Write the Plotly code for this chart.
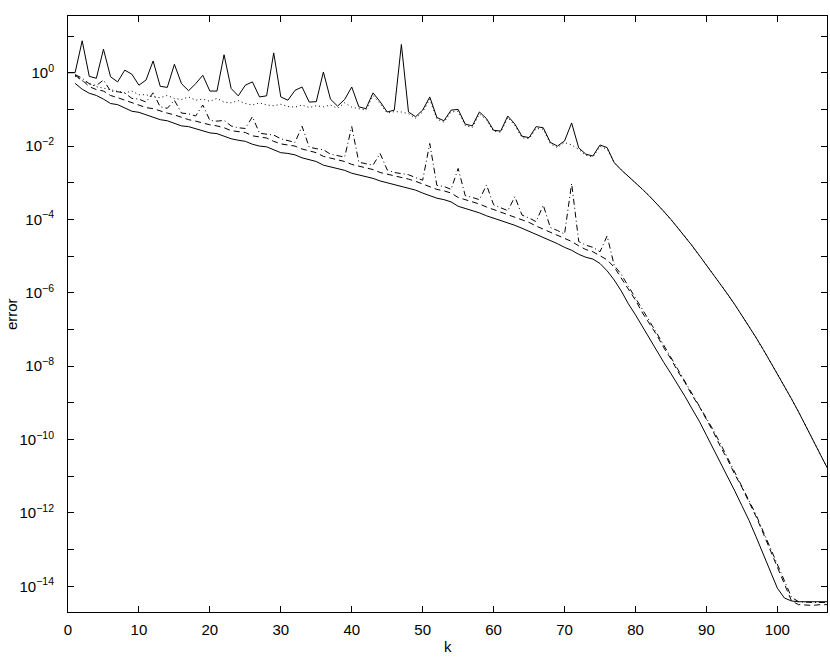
import plotly.graph_objects as go

# iteration index
k_top = list(range(0, 108))
k = list(range(1, 108))

# log10(error), one value per k
err_top_log10 = [
    0.0, 0.0, 0.87, -0.1, -0.15, 0.64, -0.11, -0.25, 0.07, -0.04,
    -0.34, -0.2, 0.32, -0.37, -0.4, 0.23, -0.3, -0.49, -0.3, -0.07,
    -0.5, -0.5, 0.49, -0.43, -0.63, -0.34, -0.25, -0.66, -0.63, 0.54,
    -0.66, -0.75, -0.48, -0.39, -0.8, -0.79, 0.02, -0.72, -0.91, -0.73,
    -0.39, -0.93, -0.98, -0.55, -0.79, -1.07, -1.02, 0.77, -1.07, -1.2,
    -1.02, -0.66, -1.22, -1.31, -1.02, -1.0, -1.4, -1.45, -1.07, -1.25,
    -1.57, -1.59, -1.18, -1.4, -1.73, -1.77, -1.47, -1.5, -1.9, -2.0,
    -1.86, -1.37, -2.05, -2.22, -2.27, -1.97, -2.04, -2.45, -2.65, -2.82,
    -3.0, -3.18, -3.37, -3.57, -3.78, -4.0, -4.23, -4.47, -4.72, -4.98,
    -5.24, -5.5, -5.77, -6.04, -6.32, -6.61, -6.91, -7.22, -7.54, -7.87,
    -8.2, -8.54, -8.89, -9.25, -9.62, -9.99, -10.37, -10.76,
]

err_dot_log10 = [
    -0.1, -0.22, -0.3, -0.38, -0.42, -0.46, -0.5, -0.55, -0.5,
    -0.6, -0.6, -0.66, -0.68, -0.62, -0.7, -0.73, -0.66, -0.75, -0.72,
    -0.78, -0.7, -0.8, -0.82, -0.76, -0.84, -0.88, -0.82, -0.88, -0.9,
    -0.86, -0.92, -0.94, -0.88, -0.95, -0.9, -0.93, -0.88, -0.97, -0.82,
    -0.94, -0.98, -1.02, -0.62, -0.84, -1.1, -1.06, -1.07, -1.12, -1.24,
    -1.07, -0.72, -1.26, -1.35, -1.07, -1.05, -1.44, -1.49, -1.12, -1.29,
    -1.6, -1.62, -1.22, -1.44, -1.77, -1.8, -1.52, -1.54, -1.94, -2.04,
    -1.9, -1.97, -2.09, -2.25, -2.3, -2.01, -2.08, -2.45, -2.65, -2.82,
    -3.0, -3.18, -3.37, -3.57, -3.78, -4.0, -4.23, -4.47, -4.72, -4.98,
    -5.24, -5.5, -5.77, -6.04, -6.32, -6.61, -6.91, -7.22, -7.54, -7.87,
    -8.2, -8.54, -8.89, -9.25, -9.62, -9.99, -10.37, -10.76,
]

err_dashdot_log10 = [
    -0.05, -0.15, -0.3, -0.35, -0.2, -0.5, -0.52, -0.55, -0.7,
    -0.72, -0.8, -0.55, -0.93, -0.97, -0.75, -1.1, -1.12, -1.18, -0.88,
    -1.3, -1.32, -1.3, -1.45, -1.5, -1.52, -1.2, -1.65, -1.68, -1.7,
    -1.8, -1.86, -1.9, -1.46, -2.03, -2.07, -2.1, -2.22, -2.26, -2.3,
    -1.47, -2.44, -2.48, -2.52, -2.2, -2.65, -2.72, -2.76, -2.78, -2.86,
    -2.93, -1.93, -3.07, -3.1, -3.18, -2.61, -3.35, -3.4, -3.46, -3.06,
    -3.6, -3.68, -3.76, -3.38, -3.88, -3.96, -4.06, -3.61, -4.22, -4.3,
    -4.4, -3.02, -4.6, -4.7, -4.76, -4.88, -4.45, -5.25, -5.5, -5.82,
    -6.13, -6.47, -6.78, -7.1, -7.43, -7.75, -8.08, -8.4, -8.73, -9.05,
    -9.4, -9.75, -10.12, -10.5, -10.88, -11.25, -11.65, -12.05, -12.5, -12.95,
    -13.4, -13.9, -14.3, -14.42, -14.44, -14.44, -14.44, -14.44,
]

err_dash_log10 = [
    -0.07, -0.2, -0.38, -0.46, -0.5, -0.62, -0.68, -0.75, -0.82,
    -0.88, -0.95, -0.98, -1.05, -1.1, -1.15, -1.22, -1.28, -1.32, -1.38,
    -1.42, -1.45, -1.5, -1.58, -1.6, -1.63, -1.72, -1.76, -1.78, -1.87,
    -1.94, -1.97, -2.0, -2.08, -2.14, -2.18, -2.28, -2.33, -2.36, -2.42,
    -2.5, -2.55, -2.58, -2.64, -2.72, -2.76, -2.82, -2.86, -2.9, -2.96,
    -3.04, -3.12, -3.18, -3.22, -3.28, -3.4, -3.46, -3.5, -3.58, -3.66,
    -3.72, -3.8, -3.87, -3.94, -4.02, -4.08, -4.18, -4.26, -4.34, -4.42,
    -4.52, -4.6, -4.72, -4.82, -4.88, -5.0, -5.1, -5.3, -5.6, -5.9,
    -6.2, -6.55, -6.85, -7.15, -7.5, -7.8, -8.15, -8.45, -8.8, -9.1,
    -9.45, -9.8, -10.2, -10.55, -10.95, -11.3, -11.7, -12.1, -12.55, -13.0,
    -13.45, -13.95, -14.4, -14.5, -14.52, -14.52, -14.5, -14.5,
]

err_bottom_log10 = [
    -0.29, -0.45, -0.56, -0.62, -0.72, -0.84, -0.87, -0.95, -1.05,
    -1.08, -1.14, -1.22, -1.28, -1.31, -1.38, -1.45, -1.47, -1.52, -1.58,
    -1.64, -1.66, -1.73, -1.8, -1.84, -1.87, -1.95, -2.0, -2.02, -2.1,
    -2.18, -2.2, -2.24, -2.32, -2.38, -2.42, -2.52, -2.57, -2.6, -2.66,
    -2.74, -2.79, -2.82, -2.88, -2.95, -3.0, -3.05, -3.1, -3.14, -3.2,
    -3.28, -3.36, -3.42, -3.46, -3.52, -3.64, -3.7, -3.74, -3.82, -3.9,
    -3.96, -4.03, -4.1, -4.16, -4.24, -4.32, -4.42, -4.5, -4.58, -4.66,
    -4.76, -4.84, -4.95, -5.03, -5.08, -5.2, -5.4, -5.65, -5.95, -6.3,
    -6.6, -6.93, -7.25, -7.57, -7.9, -8.2, -8.5, -8.83, -9.17, -9.5,
    -9.88, -10.25, -10.63, -11.02, -11.4, -11.8, -12.2, -12.65, -13.1, -13.6,
    -14.05, -14.32, -14.4, -14.42, -14.42, -14.42, -14.42, -14.42,
]

x_ticks = [0, 10, 20, 30, 40, 50, 60, 70, 80, 90, 100]
y_label_exponents = [-14, -12, -10, -8, -6, -4, -2, 0]
y_minor_exponents = [-13, -11, -9, -7, -5, -3, -1, 1]


def to_err(vals):
    return [10 ** v for v in vals]


fig = go.Figure()

series = [
    (k_top, err_top_log10, "solid"),
    (k, err_dot_log10, "1px,3px"),
    (k, err_dashdot_log10, "6px,3px,1px,3px"),
    (k, err_dash_log10, "6px,4px"),
    (k, err_bottom_log10, "solid"),
]
for xs, ys, dash in series:
    fig.add_trace(
        go.Scatter(
            x=xs,
            y=to_err(ys),
            mode="lines",
            line=dict(color="black", width=1, dash=dash),
            showlegend=False,
        )
    )

axis_style = dict(
    showline=True,
    linecolor="black",
    linewidth=1,
    mirror="allticks",
    ticks="inside",
    ticklen=6,
    tickcolor="black",
    showgrid=False,
    zeroline=False,
)

fig.update_xaxes(
    range=[0, 107],
    tickvals=x_ticks,
    ticklabelstandoff=4,
    **axis_style,
)
fig.update_yaxes(
    type="log",
    range=[-14.7, 1.546],
    tickvals=[10.0 ** e for e in y_label_exponents],
    ticktext=[f"10<sup>{'−' if e < 0 else ''}{abs(e)}</sup>" for e in y_label_exponents],
    minor=dict(
        tickvals=[10.0 ** e for e in y_minor_exponents],
        ticks="inside",
        ticklen=6,
        tickcolor="black",
        showgrid=False,
    ),
    ticklabelstandoff=10,
    **axis_style,
)

fig.update_layout(
    width=830,
    height=658,
    margin=dict(l=68, r=3, t=16, b=46),
    plot_bgcolor="white",
    paper_bgcolor="white",
    font=dict(family="Liberation Sans, Arial, sans-serif", size=15, color="black"),
    annotations=[
        dict(
            text="error", x=-0.075, y=0.5, xref="paper", yref="paper",
            textangle=-90, showarrow=False, xanchor="center", yanchor="middle",
        ),
        dict(
            text="k", x=0.5, y=-0.058, xref="paper", yref="paper",
            showarrow=False, xanchor="center", yanchor="middle",
        ),
    ],
)

# drop the page's default body margin so the figure sits at the window corner
fig.write_html(
    "out.html",
    config={"displayModeBar": False},
    post_script="document.body.style.margin='0';",
)
